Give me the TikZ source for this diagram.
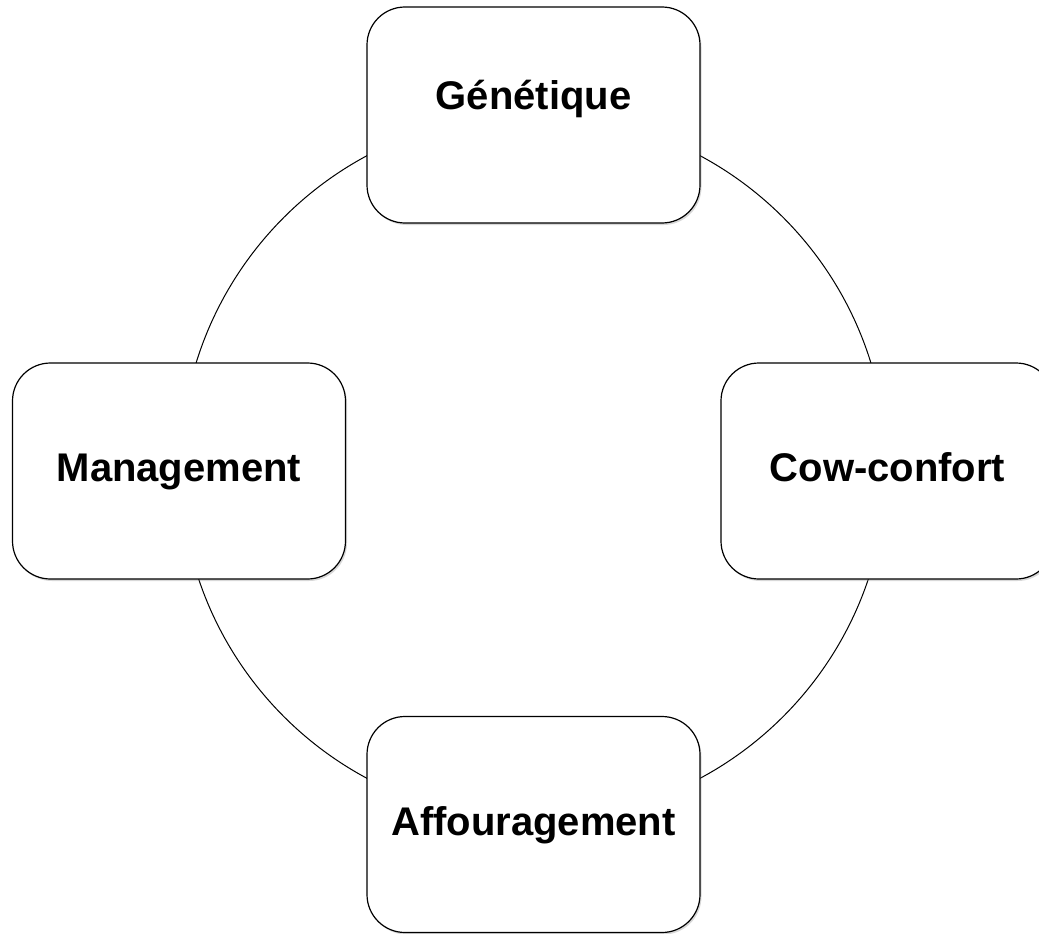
\documentclass[tikz,border=0pt]{standalone}
\usepackage{fontspec}
\setmainfont{Liberation Sans}
\usetikzlibrary{shadows}
\begin{document}
\begin{tikzpicture}[x=1pt,y=-1pt,
  box/.style={draw=black, line width=1.2pt, fill=white, rounded corners=38pt,
    minimum width=333pt, minimum height=216pt,
    drop shadow={opacity=0.3, shadow xshift=1.5pt, shadow yshift=-2pt, fill=gray},
    font=\fontsize{40}{47}\selectfont\bfseries, text height=29pt, text depth=8pt, inner sep=0pt},
  lbl/.style={font=\fontsize{40}{47}\selectfont\bfseries, text height=29pt, text depth=8pt, inner sep=0pt},
  ring/.style={draw=black, line width=1pt}]
\useasboundingbox (0,0) rectangle (1039,934);
\fill[white] (0,0) rectangle (1039,934);
\coordinate (c) at (533.5,467);
\draw[ring] (c) circle (353pt);
\node[box] (gen) at (533.5,115) {};
\node[lbl] (gent) at (533.5,99.5) {Génétique};
\node[box] (cow) at (887.5,471) {Cow-confort};
\node[box] (man) at (179,471) {Management};
\node[box] (aff) at (533.5,824.5) {Affouragement};
\end{tikzpicture}
\end{document}
